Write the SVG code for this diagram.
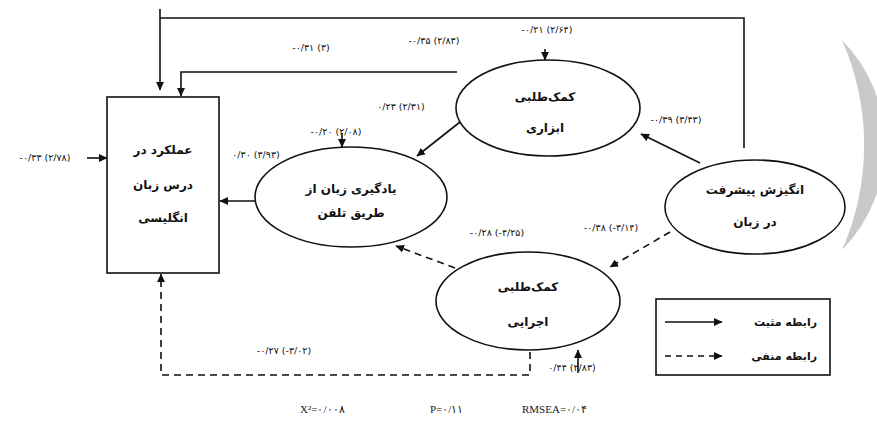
<svg xmlns="http://www.w3.org/2000/svg" width="877" height="425" viewBox="0 0 877 425">
<style>
.ln{fill:none;stroke:#111;stroke-width:1.6}
.ds{stroke-dasharray:7 5}
.nd{fill:#fff;stroke:#111;stroke-width:1.6}
.fa{font-family:"DejaVu Sans",sans-serif;font-size:12px;font-weight:bold;fill:#111;text-anchor:middle}
.lb{font-family:"DejaVu Sans",sans-serif;font-size:9.5px;fill:#111;text-anchor:middle}
.ft{font-family:"Liberation Serif",serif;font-size:11px;fill:#222}
</style>
<defs>
<marker id="ah" markerWidth="9" markerHeight="9" refX="8" refY="4.5" orient="auto" markerUnits="userSpaceOnUse">
<path d="M0,0.5 L8.5,4.5 L0,8.5 z" fill="#111"/>
</marker>
</defs>
<path d="M842 40 A150 150 0 0 1 842 250 A260 260 0 0 0 842 40 z" fill="#c9c9c9"/>
<g id="connectors">
<path class="ln" d="M160 9 V90" marker-end="url(#ah)"/>
<path class="ln" d="M160 18 H744 V148"/>
<path class="ln" d="M457 72 H181 V96" marker-end="url(#ah)"/>
<path class="ln" d="M255 201 H220" marker-end="url(#ah)"/>
<path class="ln" d="M460 122 L417 156" marker-end="url(#ah)"/>
<path class="ln" d="M700 163 L641 134" marker-end="url(#ah)"/>
<path class="ln ds" d="M670 232 L610 267" marker-end="url(#ah)"/>
<path class="ln ds" d="M455 268 L396 246" marker-end="url(#ah)"/>
<path class="ln ds" d="M530 352 V375 H161 V274" marker-end="url(#ah)"/>
<path class="ln" d="M87 158 H107" marker-end="url(#ah)"/>
<path class="ln" d="M545 49 V60" marker-end="url(#ah)"/>
<path class="ln" d="M342 133 V147" marker-end="url(#ah)"/>
<path class="ln" d="M578 373 V350" marker-end="url(#ah)"/>
</g>
<g id="performance">
<rect class="nd" x="107" y="97" width="112" height="176"/>
<text class="fa" x="163" y="154">عملکرد در</text>
<text class="fa" x="163" y="189">درس زبان</text>
<text class="fa" x="163" y="222">انگلیسی</text>
</g>
<g id="phone-learning">
<ellipse class="nd" cx="351" cy="197" rx="96" ry="50"/>
<text class="fa" x="351" y="193">یادگیری زبان از</text>
<text class="fa" x="351" y="217">طریق تلفن</text>
</g>
<g id="instrumental">
<ellipse class="nd" cx="548" cy="108" rx="92" ry="48"/>
<text class="fa" x="545" y="101">کمک‌طلبی</text>
<text class="fa" x="545" y="132">ابزاری</text>
</g>
<g id="motivation">
<ellipse class="nd" cx="755" cy="207" rx="90" ry="47"/>
<text class="fa" x="755" y="194">انگیزش پیشرفت</text>
<text class="fa" x="755" y="226">در زبان</text>
</g>
<g id="executive">
<ellipse class="nd" cx="528" cy="301" rx="92" ry="49"/>
<text class="fa" x="528" y="291">کمک‌طلبی</text>
<text class="fa" x="528" y="326">اجرایی</text>
</g>
<g id="labels">
<text class="lb" x="547" y="33">-۰/۲۱ (۲/۶۴)</text>
<text class="lb" x="434" y="44">-۰/۳۵ (۲/۸۳)</text>
<text class="lb" x="311" y="51">-۰/۳۱ (۳)</text>
<text class="lb" x="401" y="110">۰/۲۳ (۲/۳۱)</text>
<text class="lb" x="336" y="135">-۰/۲۰ (۲/۰۸)</text>
<text class="lb" x="256" y="158">۰/۳۰ (۳/۹۳)</text>
<text class="lb" x="45" y="161">-۰/۳۳ (۲/۷۸)</text>
<text class="lb" x="676" y="123">-۰/۳۹ (۳/۴۳)</text>
<text class="lb" x="497" y="236">-۰/۲۸ (-۴/۲۵)</text>
<text class="lb" x="611" y="231">-۰/۳۸ (-۳/۱۴)</text>
<text class="lb" x="284" y="354">-۰/۲۷ (-۳/۰۲)</text>
<text class="lb" x="572" y="371">۰/۴۴ (۲/۸۳)</text>
</g>
<g id="legend">
<rect x="656" y="299" width="174" height="76" fill="#fff" stroke="#111" stroke-width="1.6"/>
<path class="ln" d="M665 322 H722" marker-end="url(#ah)"/>
<path class="ln" d="M665 356 H722" stroke-dasharray="6 5" marker-end="url(#ah)"/>
<text class="fa" x="817" y="326" style="text-anchor:end;font-size:11px">رابطه مثبت</text>
<text class="fa" x="817" y="360" style="text-anchor:end;font-size:11px">رابطه منفی</text>
</g>
<g id="fit">
<text class="ft" x="300" y="413">X²=۰/۰۰۸</text>
<text class="ft" x="430" y="413">P=۰/۱۱</text>
<text class="ft" x="522" y="413">RMSEA=۰/۰۴</text>
</g>
</svg>
